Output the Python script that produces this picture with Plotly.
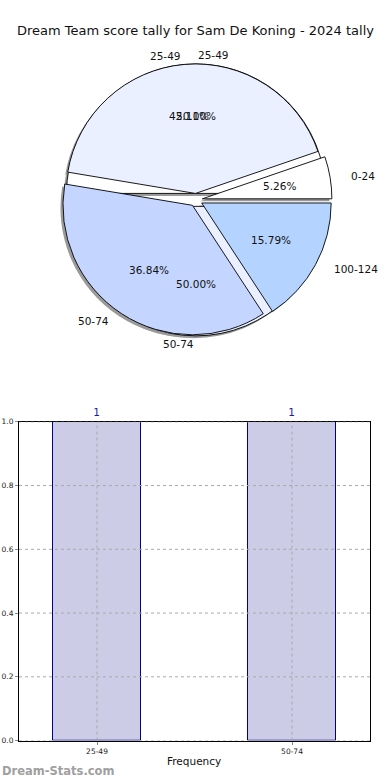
import math
import plotly.graph_objects as go

# ---------------- data ----------------
title_text = "Dream Team score tally for Sam De Koning - 2024 tally"
tally_labels = ["0-24", "25-49", "50-74", "100-124"]
tally_counts = [1, 8, 7, 3]
tally_colors = ["#ffffff", "#eaf0ff", "#c4d6ff", "#b4d4ff"]

freq_labels = ["25-49", "50-74"]
freq_counts = [1, 1]
freq_pie_colors = ["#ffffff", "#eaf0ff"]

y_ticks = [0.0, 0.2, 0.4, 0.6, 0.8, 1.0]

# ---------------- geometry ----------------
W, H = 390, 780


def sy(py):
    # small vertical calibration of the rendered page
    return (py - 3.0) / 0.989


def fy(py):
    return 1 - sy(py) / H


cx, cy = 196, sy(199)      # pie centre in px
pull = 0.05
r = 131.0                  # pie radius in px
Rb = r * (1 + pull)        # half box size used by plotly


def dom(dx=0.0, dy=0.0):
    return dict(x=[(cx + dx - Rb) / W, (cx + dx + Rb) / W],
                y=[1 - (cy + dy + Rb) / H, 1 - (cy + dy - Rb) / H])


def pie(labels, values, colors, domain, line_color="black", line_w=0.9):
    # matplotlib style: start at 3 o'clock, counter-clockwise
    return go.Pie(labels=labels[::-1], values=values[::-1],
                  marker=dict(colors=colors[::-1],
                              line=dict(color=line_color, width=line_w)),
                  sort=False, direction="clockwise", rotation=90,
                  pull=[pull] * len(values), textinfo="none",
                  hoverinfo="skip", showlegend=False, domain=domain)


fig = go.Figure()
# shadows
fig.add_trace(pie(freq_labels, freq_counts, ["#9a9a9a"] * 2, dom(-2.5, 2.5),
                  line_color="#9a9a9a", line_w=0))
fig.add_trace(pie(tally_labels, tally_counts, ["#9a9a9a"] * 4, dom(-2.5, 2.5),
                  line_color="#9a9a9a", line_w=0))
# pies
fig.add_trace(pie(freq_labels, freq_counts, freq_pie_colors, dom()))
fig.add_trace(pie(tally_labels, tally_counts, tally_colors, dom()))

annotations = []


def pie_text(labels, values):
    total = sum(values)
    start = 0.0
    for lab, v in zip(labels, values):
        frac = v / total
        mid = math.radians((start + frac / 2) * 360)
        start += frac
        c, s = math.cos(mid), math.sin(mid)
        # category labels: a touch wider than tall, like the reference
        lx = cx + (1.1 + pull) * r * 1.03 * c
        ly = cy - (1.1 + pull) * r * 0.97 * s
        annotations.append(dict(
            x=lx / W, y=1 - ly / H, xref="paper", yref="paper",
            text=lab, showarrow=False,
            xanchor="left" if c > 0 else "right", yanchor="middle",
            font=dict(family="DejaVu Sans", size=10.5, color="#111")))
        px = cx + (0.6 + pull) * r * c
        py = cy - (0.6 + pull) * r * s
        annotations.append(dict(
            x=px / W, y=1 - py / H, xref="paper", yref="paper",
            text="%.2f%%" % (frac * 100), showarrow=False,
            xanchor="center", yanchor="middle",
            font=dict(family="DejaVu Sans", size=10.5, color="#111")))


pie_text(tally_labels, tally_counts)
pie_text(freq_labels, freq_counts)

# ---------------- bar chart ----------------
fig.add_trace(go.Bar(
    x=freq_labels, y=freq_counts, width=0.45,
    marker=dict(color="#cccce6", line=dict(color="#00008b", width=1)),
    text=[str(v) for v in freq_counts], textposition="outside",
    textfont=dict(family="DejaVu Sans", size=10.5, color="#1a1aa0"),
    cliponaxis=False, hoverinfo="skip", showlegend=False))

axis_common = dict(showgrid=False, showline=True, mirror=True,
                   linecolor="black", linewidth=1, ticks="outside", ticklen=3,
                   tickcolor="#888", zeroline=False,
                   tickfont=dict(family="DejaVu Sans", size=7.5, color="#222"))

fig.update_layout(
    width=W, height=H,
    margin=dict(l=0, r=0, t=0, b=0),
    paper_bgcolor="white", plot_bgcolor="white",
    xaxis=dict(domain=[19 / W, 370 / W], type="category",
               range=[-0.4, 1.4], **axis_common),
    yaxis=dict(domain=[fy(740), fy(421)], range=[0, 1],
               tickvals=y_ticks, ticktext=["%.1f" % t for t in y_ticks],
               **axis_common),
    bargap=0,
)

# dotted grid drawn above the bars (as in the reference)
grid_style = dict(color="#aaaaaa", width=1, dash="dot")
shapes = []
for cat in freq_labels:
    shapes.append(dict(type="line", xref="x", yref="y", x0=cat, x1=cat,
                       y0=0, y1=1, line=grid_style, layer="above"))
for t in y_ticks:
    shapes.append(dict(type="line", xref="paper", yref="y",
                       x0=19 / W, x1=370 / W, y0=t, y1=t,
                       line=grid_style, layer="above"))
fig.update_layout(shapes=shapes)

annotations += [
    dict(x=0.5, y=fy(30), xref="paper", yref="paper", text=title_text,
         showarrow=False, xanchor="center", yanchor="middle",
         font=dict(family="DejaVu Sans", size=13, color="#111")),
    dict(x=194 / W, y=fy(760), xref="paper", yref="paper",
         text="Frequency", showarrow=False, xanchor="center",
         yanchor="middle",
         font=dict(family="DejaVu Sans", size=10.5, color="#111")),
    dict(x=0, y=fy(770), xref="paper", yref="paper",
         text="<b>Dream-Stats.com</b>", showarrow=False, xanchor="left",
         yanchor="middle",
         font=dict(family="DejaVu Sans", size=11.5, color="#a0a0a0")),
]
fig.update_layout(annotations=annotations)

fig.write_html("out.html",
               config={"displayModeBar": False},
               post_script="document.body.style.margin='0';"
                           "document.body.style.overflow='hidden';")
